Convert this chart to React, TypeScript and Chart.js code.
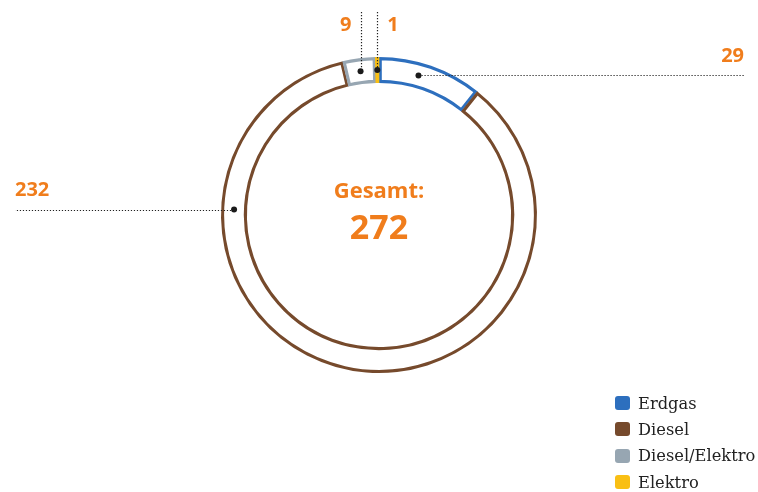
import React, { useEffect, useRef } from "react";
import { Chart, registerables } from "chart.js";

Chart.register(...registerables);

// ---- data ----
const categories: string[] = ["Erdgas", "Diesel", "Diesel/Elektro", "Elektro"];
const values: number[] = [29, 232, 9, 1];
const totalLabel = "Gesamt:";
const totalValue = 272;

// ---- styles ----
const lineColors = ["#2d6fbe", "#764a2c", "#97a6b2", "#f9bf14"];
const fillColors = ["#ffffff", "#ffffff", "#ffffff", "#f9bf14"];
const ORANGE = "#f07d1c";
const NUM_FONT = "'Open Sans', 'DejaVu Sans', sans-serif";

// callout layout: where the dot sits inside each segment and where the leader goes
type Callout = { frac: number; dir: "left" | "right" | "up"; end: number; side?: "left" | "right" };
const callouts: Callout[] = [
  { frac: 0.41, dir: "right", end: 745 },
  { frac: 0.758, dir: "left", end: 15 },
  { frac: 0.5, dir: "up", end: 12, side: "left" },
  { frac: 0.5, dir: "up", end: 12, side: "right" },
];

const calloutPlugin = {
  id: "callouts",
  afterDraw(chart: any) {
    const ctx: CanvasRenderingContext2D = chart.ctx;
    const meta = chart.getDatasetMeta(0);
    const data = chart.data.datasets[0].data as number[];
    let cx = 0;
    let cy = 0;
    meta.data.forEach((arc: any, i: number) => {
      const p = arc.getProps(["x", "y", "startAngle", "endAngle", "innerRadius", "outerRadius"], true);
      cx = p.x;
      cy = p.y;
      const c = callouts[i];
      const a = p.startAngle + (p.endAngle - p.startAngle) * c.frac;
      const r = (p.innerRadius + p.outerRadius) / 2;
      const px = p.x + r * Math.cos(a);
      const py = p.y + r * Math.sin(a);

      ctx.save();
      ctx.strokeStyle = "#222";
      ctx.lineWidth = 1.2;
      ctx.setLineDash([1.2, 1.8]);
      ctx.beginPath();
      if (c.dir === "up") {
        ctx.moveTo(Math.round(px) + 0.5, c.end);
        ctx.lineTo(Math.round(px) + 0.5, py);
      } else {
        ctx.moveTo(px, Math.round(py) + 0.5);
        ctx.lineTo(c.end, Math.round(py) + 0.5);
      }
      ctx.stroke();
      ctx.setLineDash([]);
      ctx.fillStyle = "#1a1a1a";
      ctx.beginPath();
      ctx.arc(px, py, 3, 0, Math.PI * 2);
      ctx.fill();

      ctx.fillStyle = ORANGE;
      ctx.font = `bold 20px ${NUM_FONT}`;
      ctx.textBaseline = "alphabetic";
      const label = String(data[i]);
      if (c.dir === "right") {
        ctx.textAlign = "right";
        ctx.fillText(label, c.end - 1, py - 13);
      } else if (c.dir === "left") {
        ctx.textAlign = "left";
        ctx.fillText(label, c.end, py - 14);
      } else if (c.side === "left") {
        ctx.textAlign = "right";
        ctx.fillText(label, px - 9, 31);
      } else {
        ctx.textAlign = "left";
        ctx.fillText(label, px + 10, 31);
      }
      ctx.restore();
    });

    ctx.save();
    ctx.fillStyle = ORANGE;
    ctx.textAlign = "center";
    ctx.textBaseline = "alphabetic";
    ctx.font = `bold 22px ${NUM_FONT}`;
    ctx.fillText(totalLabel, cx, cy - 17);
    ctx.textBaseline = "middle";
    ctx.font = `bold 34px ${NUM_FONT}`;
    ctx.fillText(String(totalValue), cx, cy + 14);
    ctx.restore();
  },
};

export default function App() {
  const canvasRef = useRef<HTMLCanvasElement | null>(null);

  useEffect(() => {
    if (!canvasRef.current) return;
    const chart = new Chart(canvasRef.current, {
      type: "doughnut",
      data: {
        labels: categories,
        datasets: [
          {
            data: values,
            backgroundColor: fillColors,
            borderColor: lineColors,
            borderWidth: 2.8,
            borderAlign: "inner",
            borderJoinStyle: "miter",
            hoverOffset: 0,
          } as any,
        ],
      },
      options: {
        responsive: false,
        animation: false,
        events: [],
        radius: 158,
        cutout: "83.6%",
        rotation: 0,
        layout: { padding: { top: 0, bottom: 62, left: 0, right: 0 } },
        plugins: {
          legend: { display: false },
          tooltip: { enabled: false },
        },
      } as any,
      plugins: [calloutPlugin],
    });
    return () => chart.destroy();
  }, []);

  return (
    <div style={{ position: "absolute", left: 0, top: 0, width: 758, height: 492, background: "#fff" }}>
      <canvas ref={canvasRef} width={758} height={492} style={{ display: "block" }} />
      {categories.map((name, i) => (
        <div
          key={name}
          style={{
            position: "absolute",
            left: 615,
            top: 390 + i * 26.4,
            height: 26,
            display: "flex",
            alignItems: "center",
            fontFamily: "'DejaVu Serif', serif",
            fontSize: 16.3,
            color: "#222",
            whiteSpace: "nowrap",
          }}
        >
          <span
            style={{
              display: "inline-block",
              width: 15,
              height: 14,
              borderRadius: 3,
              background: lineColors[i],
              marginRight: 8,
            }}
          />
          <span>{name}</span>
        </div>
      ))}
    </div>
  );
}
